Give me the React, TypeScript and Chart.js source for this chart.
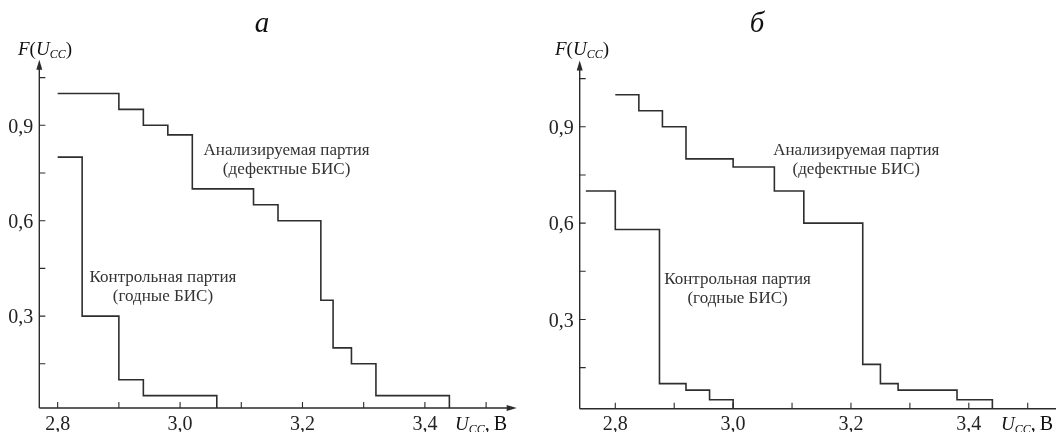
import React, { useEffect, useRef } from 'react';
import { Chart, registerables } from 'chart.js';

Chart.register(...registerables);

// ---- Data: panel "а"
const analyzedXA = [2.8, 2.9, 2.94, 2.98, 3.02, 3.12, 3.16, 3.23, 3.25, 3.28, 3.32, 3.44];
const analyzedYA = [1.0, 0.95, 0.9, 0.87, 0.7, 0.65, 0.6, 0.35, 0.2, 0.15, 0.05, 0];
const controlXA = [2.8, 2.84, 2.9, 2.94, 3.06];
const controlYA = [0.8, 0.3, 0.1, 0.05, 0];

// ---- Data: panel "б"
const analyzedXB = [2.8, 2.84, 2.88, 2.92, 3.0, 3.07, 3.12, 3.22, 3.25, 3.28, 3.38, 3.44];
const analyzedYB = [1.0, 0.95, 0.9, 0.8, 0.775, 0.7, 0.6, 0.16, 0.1, 0.08, 0.05, 0];
const controlXB = [2.75, 2.8, 2.875, 2.92, 2.96, 3.0];
const controlYB = [0.7, 0.58, 0.1, 0.08, 0.05, 0];

// ---- Ticks
const xTickValues = [2.8, 2.9, 3.0, 3.1, 3.2, 3.3, 3.4, 3.5];
const xTickLabels = ['2,8', '', '3,0', '', '3,2', '', '3,4', ''];
const yTickValues = [0.15, 0.3, 0.45, 0.6, 0.75, 0.9, 1.05];
const yTickLabels = ['', '0,3', '', '0,6', '', '0,9', ''];

// ---- Labels
const seriesNames = ['Анализируемая партия', 'Контрольная партия'];
const seriesNotes = ['(дефектные БИС)', '(годные БИС)'];
const panelTitles = ['а', 'б'];
const labelXA = [3.174, 2.972];
const labelYA = [0.82, 0.42];
const labelXB = [3.209, 3.0075];
const labelYB = [0.825, 0.425];

const SERIF = '"Liberation Serif", "DejaVu Serif", serif';
const INK = '#2b2b2b';

type PanelCfg = {
  left: number;
  width: number;
  areaLeft: number;
  areaRight: number;
  areaTop: number;
  areaBottom: number;
  xMin: number;
  xMax: number;
  yMin: number;
  yMax: number;
  analyzedX: number[];
  analyzedY: number[];
  controlX: number[];
  controlY: number[];
  labelX: number[];
  labelY: number[];
  title: string;
  titleX: number;
  fLabelX: number;
  uLabelX: number;
  xArrow: boolean;
};

const H = 432;

const panels: PanelCfg[] = [
  {
    left: 0, width: 528,
    areaLeft: 39.3, areaRight: 516.7, areaTop: 61.7, areaBottom: 408,
    xMin: 2.77, xMax: 3.55, yMin: 0.011, yMax: 1.1,
    analyzedX: analyzedXA, analyzedY: analyzedYA, controlX: controlXA, controlY: controlYA,
    labelX: labelXA, labelY: labelYA,
    title: panelTitles[0], titleX: 262, fLabelX: 18, uLabelX: 455, xArrow: true,
  },
  {
    left: 528, width: 528,
    areaLeft: 51.7, areaRight: 528, areaTop: 62.6, areaBottom: 408.7,
    xMin: 2.7396, xMax: 3.548, yMin: 0.022, yMax: 1.1,
    analyzedX: analyzedXB, analyzedY: analyzedYB, controlX: controlXB, controlY: controlYB,
    labelX: labelXB, labelY: labelYB,
    title: panelTitles[1], titleX: 757 - 528, fLabelX: 27, uLabelX: 1001 - 528, xArrow: false,
  },
];

function drawSubscripted(ctx: CanvasRenderingContext2D, x: number, y: number, parts: [string, string, number, number][]) {
  let cx = x;
  for (const [t, style, size, dy] of parts) {
    ctx.font = `${style} ${size}px ${SERIF}`;
    ctx.fillText(t, cx, y + dy);
    cx += ctx.measureText(t).width;
  }
}

function PanelChart({ cfg }: { cfg: PanelCfg }) {
  const ref = useRef<HTMLCanvasElement>(null);
  useEffect(() => {
    if (!ref.current) return;
    const toPts = (xs: number[], ys: number[]) => xs.map((x, i) => ({ x, y: ys[i] }));

    const decor = {
      id: 'decor',
      afterDraw(chart: any) {
        const ctx: CanvasRenderingContext2D = chart.ctx;
        const a = chart.chartArea;
        const xs = chart.scales.x;
        const ys = chart.scales.y;
        ctx.save();
        ctx.strokeStyle = INK;
        ctx.fillStyle = INK;
        ctx.lineWidth = 1.4;
        ctx.beginPath();
        ctx.moveTo(a.left, a.bottom);
        ctx.lineTo(a.left, a.top + 4);
        ctx.moveTo(a.left, a.bottom);
        ctx.lineTo(cfg.xArrow ? a.right - 4 : a.right, a.bottom);
        ctx.stroke();
        ctx.beginPath();
        ctx.moveTo(a.left, a.top - 2);
        ctx.lineTo(a.left - 3, a.top + 8);
        ctx.lineTo(a.left + 3, a.top + 8);
        ctx.closePath();
        ctx.fill();
        if (cfg.xArrow) {
          ctx.beginPath();
          ctx.moveTo(a.right, a.bottom);
          ctx.lineTo(a.right - 10, a.bottom - 3);
          ctx.lineTo(a.right - 10, a.bottom + 3);
          ctx.closePath();
          ctx.fill();
        }
        ctx.lineWidth = 1.1;
        ctx.beginPath();
        for (const v of yTickValues) {
          const py = ys.getPixelForValue(v);
          ctx.moveTo(a.left, py);
          ctx.lineTo(a.left + 6, py);
        }
        for (const v of xTickValues) {
          const px = xs.getPixelForValue(v);
          if (px > a.right - 2) continue;
          ctx.moveTo(px, a.bottom);
          ctx.lineTo(px, a.bottom - 6);
        }
        ctx.stroke();

        ctx.textAlign = 'center';
        ctx.textBaseline = 'alphabetic';
        ctx.font = `italic 29px ${SERIF}`;
        ctx.fillStyle = '#111';
        ctx.fillText(cfg.title, cfg.titleX, 31.5);

        ctx.textAlign = 'left';
        drawSubscripted(ctx, cfg.fLabelX, 55, [
          ['F', 'italic', 19, 0],
          ['(', 'normal', 19, 0],
          ['U', 'italic', 19, 0],
          ['CC', 'italic', 12, 3],
          [')', 'normal', 19, 0],
        ]);
        drawSubscripted(ctx, cfg.uLabelX, 430, [
          ['U', 'italic', 19, 0],
          ['CC', 'italic', 12, 3],
          [',\u2009В', 'normal', 20, 0],
        ]);

        ctx.textAlign = 'center';
        ctx.textBaseline = 'middle';
        ctx.font = `17px ${SERIF}`;
        ctx.fillStyle = '#333';
        for (let i = 0; i < seriesNames.length; i++) {
          const px = xs.getPixelForValue(cfg.labelX[i]);
          const py = ys.getPixelForValue(cfg.labelY[i]);
          ctx.fillText(seriesNames[i], px, py);
          ctx.fillText(seriesNotes[i], px, py + 19);
        }
        ctx.restore();
      },
    };

    const chart = new Chart(ref.current, {
      type: 'line',
      data: {
        datasets: [
          {
            label: seriesNames[0],
            data: toPts(cfg.analyzedX, cfg.analyzedY),
            stepped: 'before',
            borderColor: '#2e2e2e',
            borderWidth: 1.6,
            pointRadius: 0,
            fill: false,
          },
          {
            label: seriesNames[1],
            data: toPts(cfg.controlX, cfg.controlY),
            stepped: 'before',
            borderColor: '#2e2e2e',
            borderWidth: 1.6,
            pointRadius: 0,
            fill: false,
          },
        ],
      },
      options: {
        animation: false,
        responsive: false,
        maintainAspectRatio: false,
        devicePixelRatio: 1,
        layout: {
          padding: { left: 0, top: cfg.areaTop, right: cfg.width - cfg.areaRight, bottom: 0 },
        },
        plugins: { legend: { display: false }, tooltip: { enabled: false }, title: { display: false } },
        scales: {
          x: {
            type: 'linear',
            min: cfg.xMin,
            max: cfg.xMax,
            grid: { display: false, drawTicks: false },
            border: { display: false },
            afterBuildTicks: (s: any) => { s.ticks = xTickValues.map((v) => ({ value: v })); },
            afterFit: (s: any) => { s.height = H - cfg.areaBottom; },
            ticks: {
              autoSkip: false,
              maxRotation: 0,
              padding: 4.5,
              color: '#222',
              font: { family: SERIF, size: 20 },
              callback: (v: any) => {
                const i = xTickValues.findIndex((t) => Math.abs(t - Number(v)) < 1e-6);
                return i >= 0 ? xTickLabels[i] : '';
              },
            },
          },
          y: {
            type: 'linear',
            min: cfg.yMin,
            max: cfg.yMax,
            grid: { display: false, drawTicks: false },
            border: { display: false },
            afterBuildTicks: (s: any) => { s.ticks = yTickValues.map((v) => ({ value: v })); },
            afterFit: (s: any) => { s.width = cfg.areaLeft; },
            ticks: {
              autoSkip: false,
              padding: 6,
              labelOffset: 2,
              color: '#222',
              font: { family: SERIF, size: 20 },
              callback: (v: any) => {
                const i = yTickValues.findIndex((t) => Math.abs(t - Number(v)) < 1e-6);
                return i >= 0 ? yTickLabels[i] : '';
              },
            },
          },
        },
      },
      plugins: [decor],
    } as any);
    return () => chart.destroy();
  }, [cfg]);

  return (
    <canvas
      ref={ref}
      width={cfg.width}
      height={H}
      style={{ position: 'absolute', left: cfg.left, top: 0, width: cfg.width, height: H }}
    />
  );
}

export default function App() {
  return (
    <div style={{ position: 'fixed', left: 0, top: 0, width: 1056, height: H, background: '#fff', overflow: 'hidden' }}>
      {panels.map((p, i) => (
        <PanelChart key={i} cfg={p} />
      ))}
    </div>
  );
}
